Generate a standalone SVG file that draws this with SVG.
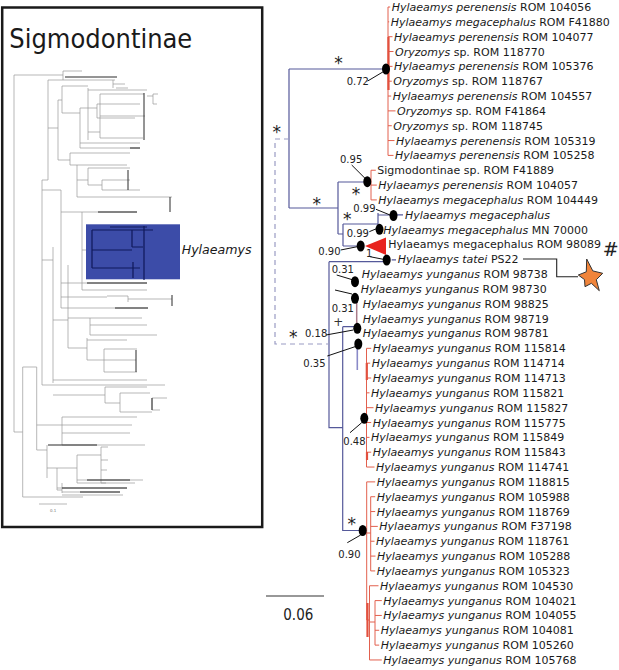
<svg xmlns="http://www.w3.org/2000/svg" width="619" height="670" viewBox="0 0 619 670">
<style>
.lab{font-family:"DejaVu Sans",sans-serif;font-size:11px;fill:#1a1a1a}
.it{font-style:italic}
.sup{font-family:"DejaVu Sans",sans-serif;font-size:10px;fill:#222}
.ast{font-family:"DejaVu Sans",sans-serif;font-size:17px;fill:#222;text-anchor:middle}
.br{fill:none;stroke:#55599a;stroke-width:1.2}
.dash{fill:none;stroke:#9a9cc4;stroke-width:1.2;stroke-dasharray:5 4}
.red{fill:none;stroke:#e2604e;stroke-width:1}
.redthick{fill:none;stroke:#e2503e;stroke-width:2.2}
.lead{fill:none;stroke:#111;stroke-width:1}
.dot{fill:#000}
.lt{fill:none;stroke:#9a9a9a;stroke-width:0.7}
.ltd{fill:none;stroke:#2a2a2a;stroke-width:1}
.navy{fill:none;stroke:#0f185a;stroke-width:1.2}
</style>
<rect width="619" height="670" fill="#fff"/>

<g id="sigmodontinae-panel">
<rect x="2.2" y="7.5" width="260" height="519.5" fill="#fff" stroke="#1a1a1a" stroke-width="2.5"/>
<text x="9.3" y="48" font-family="DejaVu Sans, sans-serif" font-size="27" fill="#1a1a1a" textLength="183" lengthAdjust="spacingAndGlyphs">Sigmodontinae</text>
<path class="lt" d="M14,75V432 M14,75H63 M63,71V80 M63,71H82 M63,80H115 M113,80V88 M113,84H125 M116,88H128
M48,80V180 M48,80H63 M48,128H58 M58,100V160 M58,100H62 M62,86V113 M62,86H88 M62,113H80
M88,88V140 M88,90H147 M88,132H100 M100,94V138 M100,94H144 M100,138H143 M100,116H145 M147,96H153 M153,94V104 M153,94H158 M153,104H157
M80,108V148 M80,108H97 M97,104V118 M97,104H140 M97,118H135 M80,148H140 M80,143H97 M97,143H140
M58,160H70 M70,153V165 M70,153H130 M70,165H77
M77,165V197 M77,165H127 M77,180H88 M88,168V185 M88,168H130 M88,185H102 M102,180V190 M102,180H130 M102,190H140 M77,197H172
M48,180H42 M42,180V385 M42,190H61 M61,190V308
M61,212H82 M82,212V290 M82,212H137 M82,290H147 M82,250H92 M61,283H87 M87,283H147
M61,297H107 M107,296H128 M128,299H172 M128,296V302 M61,308H148
M42,260H53 M53,247V383 M53,320H68 M68,265V348 M68,348H87 M87,338V360 M87,340H127 M87,360H104 M104,349V372 M104,349H137 M104,372H137 M104,360H136
M68,318H90 M90,318V335 M90,318H142 M90,325H147 M90,335H157
M53,380H147 M42,385H60 M60,385H165
M14,432H22.7 M22.7,367V497 M22.7,367H36.7 M36.7,367V450
M53,395H105 M105,387V403 M105,387H147 M105,403H120 M120,393V412 M120,393H150 M120,412H152 M152,398V410 M152,398H167 M152,410H160
M36.7,425H62 M62,417V445 M62,417H137 M62,425H132 M62,433H130 M62,445H145 M36.7,450H47 M47,445V478
M47,468H57 M57,468V490 M57,468H77 M77,455V483 M77,455H101 M101,447V483 M101,447H108 M101,460H108 M101,470H107 M101,483H106 M77,480H143 M77,483H135 M57,488H127 M57,490H62 M62,483V493 M62,492H120 M62,495H123
M22.7,497H83
M39,504H67"/>
<path class="ltd" d="M65,77H117 M130,148H140 M128,170V190 M170,197V212 M98,212H137 M87,283H147 M115,308H148 M48,445H97 M87,480H130 M62,488H127 M80,492H120 M144,93V140 M136,350V372 M172,295V306 M152,398V410"/>
<rect x="86" y="224.3" width="94" height="55" fill="#3c4ca8"/>
<path class="navy" d="M92,230V268 M92,230H153 M110,227H147 M92,268H133 M132,230V247 M132,247H143 M133,262V278 M133,268H140 M144,226V280 M92,250H132"/>
<text x="181.7" y="254" font-family="DejaVu Sans, sans-serif" font-size="12.6" font-style="italic" fill="#1a1a1a">Hylaeamys</text>
<text x="50" y="512" font-family="DejaVu Sans, sans-serif" font-size="4" fill="#777">0.1</text>
</g>

<g id="connectors">
<path class="br" d="M289,69H386 M289,69V208 M289,208H338 M338,182V234 M338,182H367 M338,234H343 M343,224V246 M343,224H378 M378,213V229 M378,215H393 M343,246H361 M393,214.8H403 M391.7,259.8H396
M329,261.7H386 M329,261.7V427.7H342.7 M342.7,326.7V530.5H362 M342.7,326.7H357"/>
<path class="dash" d="M289,139H275V344H329"/>
<path d="M356.7,301.7V326.7" fill="none" stroke="#a97b8a" stroke-width="1.5"/>
<path d="M357.3,346.7V370" fill="none" stroke="#8a8ac8" stroke-width="1.6"/>
<path class="red" d="M388,7V155.4 M388,7H390.2 M388,21.84H389.2 M388,36.68H392.5 M388,51.52H393.5 M388,66.36H392.5 M388,81.2H391.8 M388,96.04H391.2 M388,110.88H395.5 M388,125.72H391.8 M388,140.56H394.5 M388,155.4H393.5
M371,170.24V199.92 M371,170.24H375.8 M371,185.08H376.8 M371,199.92H376.8
M366.5,348.32V467.04 M366.5,348.32H371.2 M366.5,363.16H370.2 M366.5,378H371.2 M366.5,392.84H369.5 M366.5,407.68H373.5 M366.5,422.52H371.2 M366.5,437.36H369.5 M366.5,452.2H371.2 M366.5,467.04H374.5
M366.7,481.88V620 M366.7,481.88H375.2 M366.7,533H370.7 M370.7,496.72V570.92 M370.7,496.72H375.2 M370.7,511.56H375.2 M370.7,526.4H377.8 M370.7,541.24H374.5 M370.7,556.08H375.5 M370.7,570.92H375.2
M366.7,620H369.5 M369.5,585.76V659.96 M369.5,585.76H378.5 M369.5,659.96H381.8 M369.5,622H375 M375,600.6V645.12 M375,600.6H381.8 M375,615.44H381.8 M375,630.28H379.2 M375,645.12H379.2"/>
<path class="redthick" d="M388.5,37V90 M366.8,363V380 M367,452V460 M367.5,603V637"/>
<path class="lead" d="M367.7,81L383.3,71.7 M351.7,165L365,178.3 M376,209.3L390,215 M369.3,231.7L377.3,228.3 M340.7,250L357.3,246.7 M370,256.7L383.3,259.3 M336.7,275L353.3,280 M335,290L352,294 M326,335L353.3,330 M327.3,356L355,346.7 M350,432.7L361.7,422.7 M347.3,542.7L360.7,535"/>
<path d="M523,259H556.7V276.7H578" fill="none" stroke="#222" stroke-width="1.1"/>
</g>

<g id="nodes">
<g id="node-a"><ellipse class="dot" cx="386" cy="69" rx="4" ry="5.5"/><text class="sup" x="346.7" y="85">0.72</text><text class="ast" x="338.5" y="69">*</text></g>
<g id="node-root"><text class="ast" x="276.7" y="138.2">*</text></g>
<g id="node-b"><text class="ast" x="316.7" y="210">*</text></g>
<g id="node-c"><ellipse class="dot" cx="367.3" cy="181.7" rx="4" ry="5.5"/><text class="sup" x="340" y="163.3">0.95</text><text class="ast" x="356" y="200">*</text></g>
<g id="node-d"><ellipse class="dot" cx="393.5" cy="215.5" rx="4" ry="5.5"/><text class="sup" x="353.3" y="211.7">0.99</text><text class="ast" x="347.3" y="225">*</text></g>
<g id="node-e"><ellipse class="dot" cx="379.5" cy="229.3" rx="4" ry="5.5"/><text class="sup" x="346.7" y="236.7">0.99</text></g>
<g id="node-f"><ellipse class="dot" cx="360.7" cy="246" rx="4" ry="5.5"/><text class="sup" x="318.3" y="255">0.90</text><polygon points="365,246 386,237.5 386,255" fill="#e8231e"/></g>
<g id="node-g"><ellipse class="dot" cx="386.7" cy="260" rx="4" ry="5.5"/><text class="sup" x="366" y="257.3">1</text></g>
<g id="node-h"><ellipse class="dot" cx="355" cy="281.7" rx="4" ry="5.5"/><text class="sup" x="331.7" y="273.3">0.31</text></g>
<g id="node-i"><ellipse class="dot" cx="355" cy="298.3" rx="4" ry="5.5"/><text class="sup" x="331.7" y="311.7">0.31</text><text x="338.3" y="326" font-family="DejaVu Sans, sans-serif" font-size="12" fill="#333" text-anchor="middle">+</text></g>
<g id="node-j"><ellipse class="dot" cx="357.3" cy="328.3" rx="4" ry="5.5"/><text class="sup" x="305" y="336.7">0.18</text><text class="ast" x="293.3" y="343">*</text></g>
<g id="node-k"><ellipse class="dot" cx="358.3" cy="344" rx="4" ry="5.5"/><text class="sup" x="303.3" y="367.3">0.35</text></g>
<g id="node-l"><ellipse class="dot" cx="364.3" cy="418.3" rx="4" ry="5.5"/><text class="sup" x="343.3" y="445">0.48</text></g>
<g id="node-m"><ellipse class="dot" cx="362.7" cy="530.5" rx="4" ry="5.5"/><text class="sup" x="338.3" y="558.3">0.90</text><text class="ast" x="351.7" y="530">*</text></g>
</g>

<g id="tips" class="lab">
<text id="t0" class="lab" x="391.7" y="11"><tspan class="it">Hylaeamys perenensis</tspan> ROM 104056</text>
<text id="t1" class="lab" x="390.7" y="25.84"><tspan class="it">Hylaeamys megacephalus</tspan> ROM F41880</text>
<text id="t2" class="lab" x="394" y="40.68"><tspan class="it">Hylaeamys perenensis</tspan> ROM 104077</text>
<text id="t3" class="lab" x="395" y="55.52"><tspan class="it">Oryzomys</tspan> sp. ROM 118770</text>
<text id="t4" class="lab" x="394" y="70.36"><tspan class="it">Hylaeamys perenensis</tspan> ROM 105376</text>
<text id="t5" class="lab" x="393.3" y="85.2"><tspan class="it">Oryzomys</tspan> sp. ROM 118767</text>
<text id="t6" class="lab" x="392.7" y="100.04"><tspan class="it">Hylaeamys perenensis</tspan> ROM 104557</text>
<text id="t7" class="lab" x="397" y="114.88"><tspan class="it">Oryzomys</tspan> sp. ROM F41864</text>
<text id="t8" class="lab" x="393.3" y="129.72"><tspan class="it">Oryzomys</tspan> sp. ROM 118745</text>
<text id="t9" class="lab" x="396" y="144.56"><tspan class="it">Hylaeamys perenensis</tspan> ROM 105319</text>
<text id="t10" class="lab" x="395" y="159.4"><tspan class="it">Hylaeamys perenensis</tspan> ROM 105258</text>
<text id="t11" class="lab" x="377.3" y="174.24">Sigmodontinae sp. ROM F41889</text>
<text id="t12" class="lab" x="378.3" y="189.08"><tspan class="it">Hylaeamys perenensis</tspan> ROM 104057</text>
<text id="t13" class="lab" x="378.3" y="203.92"><tspan class="it">Hylaeamys megacephalus</tspan> ROM 104449</text>
<text id="t14" class="lab" x="405" y="218.76"><tspan class="it">Hylaeamys megacephalus</tspan></text>
<text id="t15" class="lab" x="383.3" y="233.6"><tspan class="it">Hylaeamys megacephalus</tspan> MN 70000</text>
<text id="t16" class="lab" x="388.3" y="248.44">Hylaeamys megacephalus ROM 98089</text>
<text id="t17" class="lab" x="397.7" y="263.28"><tspan class="it">Hylaeamys tatei</tspan> PS22</text>
<text id="t18" class="lab" x="361.7" y="278.12"><tspan class="it">Hylaeamys yunganus</tspan> ROM 98738</text>
<text id="t19" class="lab" x="360.7" y="292.96"><tspan class="it">Hylaeamys yunganus</tspan> ROM 98730</text>
<text id="t20" class="lab" x="362.7" y="307.8"><tspan class="it">Hylaeamys yunganus</tspan> ROM 98825</text>
<text id="t21" class="lab" x="362.7" y="322.64"><tspan class="it">Hylaeamys yunganus</tspan> ROM 98719</text>
<text id="t22" class="lab" x="362.7" y="337.48"><tspan class="it">Hylaeamys yunganus</tspan> ROM 98781</text>
<text id="t23" class="lab" x="372.7" y="352.32"><tspan class="it">Hylaeamys yunganus</tspan> ROM 115814</text>
<text id="t24" class="lab" x="371.7" y="367.16"><tspan class="it">Hylaeamys yunganus</tspan> ROM 114714</text>
<text id="t25" class="lab" x="372.7" y="382"><tspan class="it">Hylaeamys yunganus</tspan> ROM 114713</text>
<text id="t26" class="lab" x="371" y="396.84"><tspan class="it">Hylaeamys yunganus</tspan> ROM 115821</text>
<text id="t27" class="lab" x="375" y="411.68"><tspan class="it">Hylaeamys yunganus</tspan> ROM 115827</text>
<text id="t28" class="lab" x="372.7" y="426.52"><tspan class="it">Hylaeamys yunganus</tspan> ROM 115775</text>
<text id="t29" class="lab" x="371" y="441.36"><tspan class="it">Hylaeamys yunganus</tspan> ROM 115849</text>
<text id="t30" class="lab" x="372.7" y="456.2"><tspan class="it">Hylaeamys yunganus</tspan> ROM 115843</text>
<text id="t31" class="lab" x="376" y="471.04"><tspan class="it">Hylaeamys yunganus</tspan> ROM 114741</text>
<text id="t32" class="lab" x="376.7" y="485.88"><tspan class="it">Hylaeamys yunganus</tspan> ROM 118815</text>
<text id="t33" class="lab" x="376.7" y="500.72"><tspan class="it">Hylaeamys yunganus</tspan> ROM 105988</text>
<text id="t34" class="lab" x="376.7" y="515.56"><tspan class="it">Hylaeamys yunganus</tspan> ROM 118769</text>
<text id="t35" class="lab" x="379.3" y="530.4"><tspan class="it">Hylaeamys yunganus</tspan> ROM F37198</text>
<text id="t36" class="lab" x="376" y="545.24"><tspan class="it">Hylaeamys yunganus</tspan> ROM 118761</text>
<text id="t37" class="lab" x="377" y="560.08"><tspan class="it">Hylaeamys yunganus</tspan> ROM 105288</text>
<text id="t38" class="lab" x="376.7" y="574.92"><tspan class="it">Hylaeamys yunganus</tspan> ROM 105323</text>
<text id="t39" class="lab" x="380" y="589.76"><tspan class="it">Hylaeamys yunganus</tspan> ROM 104530</text>
<text id="t40" class="lab" x="383.3" y="604.6"><tspan class="it">Hylaeamys yunganus</tspan> ROM 104021</text>
<text id="t41" class="lab" x="383.3" y="619.44"><tspan class="it">Hylaeamys yunganus</tspan> ROM 104055</text>
<text id="t42" class="lab" x="380.7" y="634.28"><tspan class="it">Hylaeamys yunganus</tspan> ROM 104081</text>
<text id="t43" class="lab" x="380.7" y="649.12"><tspan class="it">Hylaeamys yunganus</tspan> ROM 105260</text>
<text id="t44" class="lab" x="383.3" y="663.96"><tspan class="it">Hylaeamys yunganus</tspan> ROM 105768</text>
</g>

<g id="hash-mark"><text x="602.7" y="255.5" font-family="DejaVu Sans, sans-serif" font-size="19" fill="#222">#</text></g>
<g id="star"><polygon points="586.7,259 592.8,270.9 602.7,273.3 596.3,279.7 599.3,290.7 591.4,283.3 585,286.7 584.5,279.6 578.3,275 586.3,271.8" fill="#f0843a" stroke="#333" stroke-width="1" stroke-linejoin="round"/></g>
<g id="scale-bar"><path d="M266,596H324" stroke="#333" stroke-width="1.2"/><text x="283.3" y="620" font-family="DejaVu Sans, sans-serif" font-size="16" fill="#222" textLength="30" lengthAdjust="spacingAndGlyphs">0.06</text></g>
</svg>
